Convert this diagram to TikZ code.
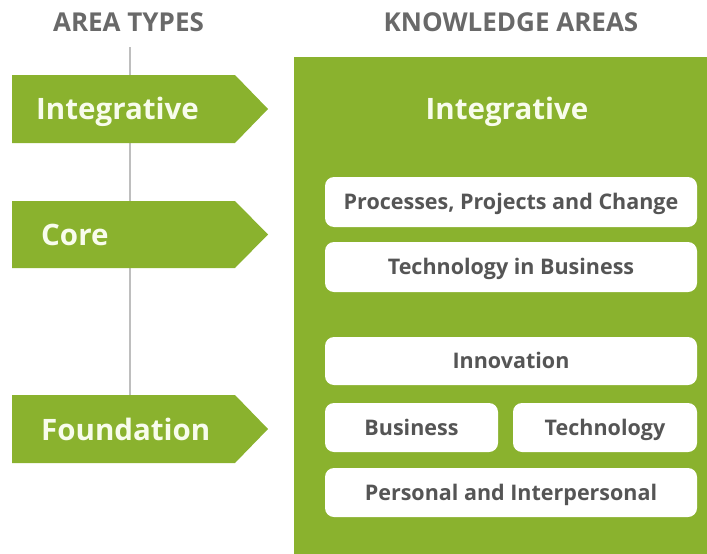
\documentclass[tikz,border=0pt]{standalone}
\usepackage{fontspec}
\setmainfont{Open Sans}
\definecolor{kgreen}{RGB}{138,178,46}
\definecolor{ktext}{RGB}{85,85,85}
\definecolor{khead}{RGB}{105,105,105}
\definecolor{kline}{RGB}{190,190,190}
\definecolor{klabel}{RGB}{248,252,236}
\begin{document}
\begin{tikzpicture}[x=1pt,y=-1pt,
  header/.style={text=khead,font=\fontsize{26}{28}\selectfont\bfseries,inner sep=0pt},
  typelabel/.style={text=klabel,font=\fontsize{29.5}{32}\selectfont\bfseries,inner sep=0pt,
    anchor=west,text height=23pt,text depth=5pt},
  kbox/.style={fill=white,rounded corners=9pt,draw=none,text=ktext,
    font=\fontsize{21.5}{24}\selectfont\bfseries,inner sep=0pt,text height=18pt,text depth=3pt},
  arrowshape/.style={fill=kgreen,draw=none}]
\useasboundingbox (0,0) rectangle (707,554);
% headers
\node[header] (h1) at (128.5,22) {AREA TYPES};
\node[header] (h2) at (511,22) {KNOWLEDGE AREAS};
% timeline
\coordinate (ltop) at (130,47);
\coordinate (lbot) at (130,396);
\draw[kline,line width=1.3pt] (ltop) -- (lbot);
% arrows
\fill[arrowshape] (12,75) -- (235,75) -- (268,109) -- (235,143) -- (12,143) -- cycle;
\fill[arrowshape] (12,201) -- (235,201) -- (268,234.5) -- (235,268) -- (12,268) -- cycle;
\fill[arrowshape] (12,395) -- (235,395) -- (268,429) -- (235,463) -- (12,463) -- cycle;
\node[typelabel] (t1) at (36,110) {Integrative};
\node[typelabel] (t2) at (41,236) {Core};
\node[typelabel] (t3) at (41,431) {Foundation};
% knowledge area panel
\fill[kgreen] (294,57) rectangle (707,554);
\node[text=klabel,font=\fontsize{29.5}{32}\selectfont\bfseries,inner sep=0pt,
  text height=23pt,text depth=5pt] (ka) at (507,110) {Integrative};
\node[kbox,minimum width=372pt,minimum height=50pt] (b1) at (511,202) {Processes, Projects and Change};
\node[kbox,minimum width=372pt,minimum height=50pt] (b2) at (511,267) {Technology in Business};
\node[kbox,minimum width=372pt,minimum height=48pt] (b3) at (511,361) {Innovation};
\node[kbox,minimum width=173pt,minimum height=49pt] (b4) at (411.5,427.5) {Business};
\node[kbox,minimum width=184pt,minimum height=49pt] (b5) at (605,427.5) {Technology};
\node[kbox,minimum width=372pt,minimum height=49pt] (b6) at (511,492.5) {Personal and Interpersonal};
\end{tikzpicture}
\end{document}
